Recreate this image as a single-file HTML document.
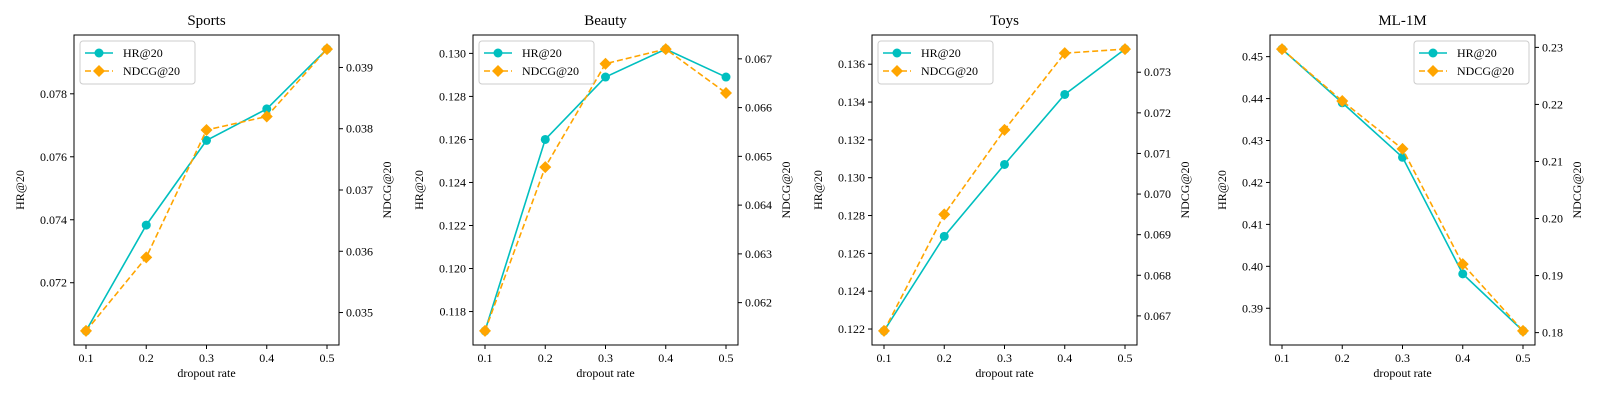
<!DOCTYPE html>
<html><head><meta charset="utf-8">
<style>
body{margin:0;background:#fff;}
svg{display:block;font-family:"Liberation Serif","DejaVu Serif",serif;}
</style></head>
<body>
<svg id="chart" width="1600" height="400" viewBox="0 0 1600 400" xmlns="http://www.w3.org/2000/svg"></svg>
<script>
const xCategories = [0.1, 0.2, 0.3, 0.4, 0.5];
const titles = ["Sports", "Beauty", "Toys", "ML-1M"];
const hrSports = [0.07047, 0.07383, 0.07652, 0.07752, 0.07942];
const ndcgSports = [0.03470, 0.03590, 0.03798, 0.03820, 0.03930];
const hrBeauty = [0.1171, 0.1260, 0.1289, 0.1302, 0.1289];
const ndcgBeauty = [0.06142, 0.06478, 0.06690, 0.06720, 0.06630];
const hrToys = [0.1219, 0.1269, 0.1307, 0.1344, 0.1368];
const ndcgToys = [0.06663, 0.06950, 0.07158, 0.07347, 0.07357];
const hrML = [0.4518, 0.4390, 0.4260, 0.3982, 0.3846];
const ndcgML = [0.2297, 0.2206, 0.2122, 0.1920, 0.1803];
const hrTicksSports = ["0.072","0.074","0.076","0.078"];
const ndcgTicksSports = ["0.035","0.036","0.037","0.038","0.039"];
const hrTicksBeauty = ["0.118","0.120","0.122","0.124","0.126","0.128","0.130"];
const ndcgTicksBeauty = ["0.062","0.063","0.064","0.065","0.066","0.067"];
const hrTicksToys = ["0.122","0.124","0.126","0.128","0.130","0.132","0.134","0.136"];
const ndcgTicksToys = ["0.067","0.068","0.069","0.070","0.071","0.072","0.073"];
const hrTicksML = ["0.39","0.40","0.41","0.42","0.43","0.44","0.45"];
const ndcgTicksML = ["0.18","0.19","0.20","0.21","0.22","0.23"];

const panels = [
 {title:titles[0], hr:hrSports, nd:ndcgSports, ht:hrTicksSports, nt:ndcgTicksSports, left:74, legend:"left"},
 {title:titles[1], hr:hrBeauty, nd:ndcgBeauty, ht:hrTicksBeauty, nt:ndcgTicksBeauty, left:473, legend:"left"},
 {title:titles[2], hr:hrToys, nd:ndcgToys, ht:hrTicksToys, nt:ndcgTicksToys, left:872, legend:"left"},
 {title:titles[3], hr:hrML, nd:ndcgML, ht:hrTicksML, nt:ndcgTicksML, left:1270, legend:"right"}
];
const NS="http://www.w3.org/2000/svg";
const svg=document.getElementById('chart');
function mk(tag,attrs,parent,text){const e=document.createElementNS(NS,tag);for(const k in attrs)e.setAttribute(k,attrs[k]);if(text!==undefined)e.textContent=text;(parent||svg).appendChild(e);return e;}
const TOP=35,BOT=345,W=265,HR_C="#00bfbf",ND_C="#ffa500";
function lin(d0,d1,r0,r1){return v=>r0+(v-d0)/(d1-d0)*(r1-r0);}
function ext(a){const mn=Math.min(...a),mx=Math.max(...a),p=(mx-mn)*0.05;return [mn-p,mx+p];}
function diamond(x,y,r){return `${x},${y-r} ${x+r},${y} ${x},${y+r} ${x-r},${y}`;}
panels.forEach((p,i)=>{
 const g=mk('g',{});
 
 
 const L=p.left,R=L+W;
 const xs=lin(0.1,0.5,L+12,R-12);
 const [h0,h1]=ext(p.hr),[n0,n1]=ext(p.nd);
 const yh=lin(h0,h1,BOT,TOP),yn=lin(n0,n1,BOT,TOP);
 const t=mk('text',{x:(L+R)/2,y:25,'text-anchor':'middle','font-size':15},g,p.title);
 
 // x ticks
 xCategories.forEach(c=>{const x=xs(c);mk('line',{x1:x,x2:x,y1:BOT,y2:BOT+4,stroke:'#000'},g);
  const tl=mk('text',{x:x,y:BOT+17,'text-anchor':'middle','font-size':12},g,c.toFixed(1));
  });
 const xl=mk('text',{x:(L+R)/2,y:BOT+32,'text-anchor':'middle','font-size':12},g,'dropout rate');
 
 p.ht.forEach(s=>{const y=yh(parseFloat(s));mk('line',{x1:L-4,x2:L,y1:y,y2:y,stroke:'#000'},g);
  const tl=mk('text',{x:L-7,y:y+4,'text-anchor':'end','font-size':12},g,s);
  });
 p.nt.forEach(s=>{const y=yn(parseFloat(s));mk('line',{x1:R,x2:R+4,y1:y,y2:y,stroke:'#000'},g);
  const tl=mk('text',{x:R+7,y:y+4,'text-anchor':'start','font-size':12},g,s);
  });
 const lyl=L-(p.ht[0].length>4?50:44);
 const yl=mk('text',{x:lyl,y:(TOP+BOT)/2,'text-anchor':'middle','font-size':12,transform:`rotate(-90 ${lyl} ${(TOP+BOT)/2})`},g,'HR@20');
 
 const ryl=R+(p.nt[0].length>4?52:46);
 const yr=mk('text',{x:ryl,y:(TOP+BOT)/2,'text-anchor':'middle','font-size':12,transform:`rotate(-90 ${ryl} ${(TOP+BOT)/2})`},g,'NDCG@20');
 
 // series
 const hpts=p.hr.map((v,k)=>[xs(xCategories[k]),yh(v)]);
 const npts=p.nd.map((v,k)=>[xs(xCategories[k]),yn(v)]);
 const hl=mk('polyline',{points:hpts.map(q=>q.join(',')).join(' '),fill:'none',stroke:HR_C,'stroke-width':1.6},g);
 
 hpts.forEach(q=>{const c=mk('circle',{cx:q[0],cy:q[1],r:4.5,fill:HR_C},g);
  });
 const nl=mk('polyline',{points:npts.map(q=>q.join(',')).join(' '),fill:'none',stroke:ND_C,'stroke-width':1.6,'stroke-dasharray':'6,3'},g);
 
 npts.forEach(q=>{const d=mk('polygon',{points:diamond(q[0],q[1],6),fill:ND_C},g);
  });
 mk('rect',{x:L,y:TOP,width:W,height:BOT-TOP,fill:'none',stroke:'#000','stroke-width':1},g);
 // legend
 const lx=p.legend==='left'?L+6:R-121, ly=TOP+6;
 const lg=mk('g',{},g);
 
 mk('rect',{x:lx,y:ly,width:115,height:43,rx:3,fill:'#fff','fill-opacity':0.8,stroke:'#ccc'},lg);
 mk('line',{x1:lx+5,x2:lx+33,y1:ly+12,y2:ly+12,stroke:HR_C,'stroke-width':1.6},lg);
 mk('circle',{cx:lx+19,cy:ly+12,r:4.5,fill:HR_C},lg);
 const e1=mk('text',{x:lx+43,y:ly+16,'font-size':12},lg,'HR@20');
 
 mk('line',{x1:lx+5,x2:lx+33,y1:ly+30,y2:ly+30,stroke:ND_C,'stroke-width':1.6,'stroke-dasharray':'6,3'},lg);
 mk('polygon',{points:diamond(lx+19,ly+30,6),fill:ND_C},lg);
 const e2=mk('text',{x:lx+43,y:ly+34,'font-size':12},lg,'NDCG@20');
 
});
</script>
</body></html>
